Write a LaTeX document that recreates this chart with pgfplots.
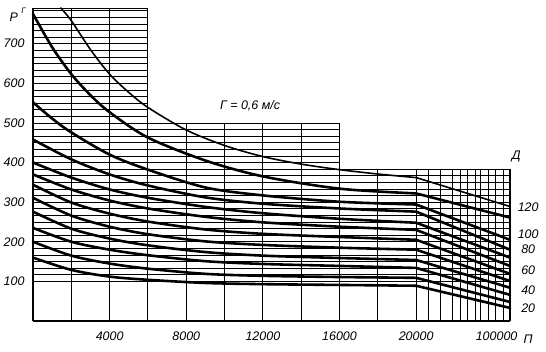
\documentclass[border=0pt]{standalone}
\usepackage{fontspec}
\setmainfont{Liberation Sans}
\usepackage{pgfplots}
\pgfplotsset{compat=1.18}
\begin{document}
\begin{tikzpicture}
\path[use as bounding box] (-33bp,-31bp) rectangle (513bp,321bp);
\begin{axis}[
 at={(0,0)}, anchor=south west,
 scale only axis, width=477bp, height=313bp,
 xmin=0, xmax=24.9, ymin=0, ymax=790,
 axis lines=left, axis line style={-, line width=1.7pt},
 major tick length=0pt,
 xtick={4,8,12,16,20,24.2},
 xticklabels={4000,8000,12000,16000,20000,100000},
 ytick={100,200,300,400,500,600,700},
 yticklabels={100,200,300,400,500,600,700},
 ticklabel style={font=\fontsize{12.5}{14}\selectfont\itshape},
 xticklabel style={yshift=-7pt},
 yticklabel style={xshift=-5pt},
 clip=false,
]
% horizontal grid
\pgfplotsinvokeforeach{100,116.7,133.3,150,166.7,183.3,200,216.7,233.3,250,266.7,283.3,300,316.7,333.3,350,366.7,383.3}{
  \draw[line width=0.6pt] (axis cs:0,#1) -- (axis cs:24.9,#1);}
\pgfplotsinvokeforeach{400,416.7,433.3,450,466.7,483.3,500}{
  \draw[line width=0.6pt] (axis cs:0,#1) -- (axis cs:16,#1);}
\pgfplotsinvokeforeach{516.7,533.3,550,566.7,583.3,600,616.7,633.3,650,666.7,683.3,700,716.7,733.3,750,766.7,783.3}{
  \draw[line width=0.6pt] (axis cs:0,#1) -- (axis cs:6,#1);}
\draw[line width=0.8pt] (axis cs:0,790) -- (axis cs:6,790);
% vertical grid
\pgfplotsinvokeforeach{2,4,6}{
  \draw[line width=1.1pt] (axis cs:#1,0) -- (axis cs:#1,790);}
\pgfplotsinvokeforeach{8,10,12,14,16}{
  \draw[line width=1.1pt] (axis cs:#1,0) -- (axis cs:#1,500);}
\pgfplotsinvokeforeach{18,20,24.9}{
  \draw[line width=1.1pt] (axis cs:#1,0) -- (axis cs:#1,383.3);}
\pgfplotsinvokeforeach{20.63,21.25,21.88,22.30,22.66,23.08,23.34,23.76,24.13,24.54}{
  \draw[line width=0.7pt] (axis cs:#1,0) -- (axis cs:#1,383.3);}
% curves
\pgfplotsset{crv/.style={black, line width=2.6pt, line cap=round, line join=round}}
\addplot[crv, line width=1.6pt, smooth] coordinates {(1.45,790) (2,758) (3,685) (4,623) (5,577) (6,539) (8,482) (10,443) (12,415) (14,396) (16,382) (18,371) (20,362)};
\addplot[crv, line width=1.6pt] coordinates {(20,362) (24.9,289)};
\addplot[crv, smooth] coordinates {(0,775) (1,691) (2,623) (3,570) (4,527) (6,463) (9,405) (12,365) (16,334) (20,322)};
\addplot[crv] coordinates {(20,322) (24.9,261)};
\addplot[crv, smooth] coordinates {(0,552) (1,511) (2,476) (4,420) (6,382) (9,337) (12,317) (16,301) (20,294)};
\addplot[crv] coordinates {(20,294) (24.9,205)};
\addplot[crv, smooth] coordinates {(0,458) (2,408) (4,370) (6,342) (9,312) (12,296) (16,284) (20,276)};
\addplot[crv] coordinates {(20,276) (24.9,180)};
\addplot[crv, smooth] coordinates {(0,400) (2,362) (4,332) (6,311) (9,288) (12,272) (16,258) (20,248)};
\addplot[crv] coordinates {(20,248) (24.9,160)};
\addplot[crv, smooth] coordinates {(0,370) (2,332) (4,304) (6,284) (9,263) (12,249) (16,238) (20,230)};
\addplot[crv] coordinates {(20,230) (24.9,139)};
\addplot[crv, smooth] coordinates {(0,344) (2,299) (4,271) (6,251) (9,231) (12,220) (16,212) (20,205)};
\addplot[crv] coordinates {(20,205) (24.9,119)};
\addplot[crv, smooth] coordinates {(0,311) (2,266) (4,238) (6,219) (9,201) (12,192) (16,185) (20,180)};
\addplot[crv] coordinates {(20,180) (24.9,101)};
\addplot[crv, smooth] coordinates {(0,276) (2,233) (4,208) (6,191) (9,174) (12,165) (16,159) (20,154)};
\addplot[crv] coordinates {(20,154) (24.9,84)};
\addplot[crv, smooth] coordinates {(0,235) (2,200) (4,180) (6,166) (9,151) (12,144) (16,139) (20,134)};
\addplot[crv] coordinates {(20,134) (24.9,66)};
\addplot[crv, smooth] coordinates {(0,200) (2,165) (4,145) (6,132) (9,119) (12,114) (16,111) (20,109)};
\addplot[crv] coordinates {(20,109) (24.9,48)};
\addplot[crv, smooth] coordinates {(0,160) (2,129) (4,112) (6,104) (9,96) (12,93) (16,91) (20,89)};
\addplot[crv] coordinates {(20,89) (24.9,33)};
% texts
\node[font=\fontsize{12.5}{14}\selectfont\itshape] at (axis cs:11.33,544) {Г = 0,6 м/с};
\node[font=\fontsize{12.5}{14}\selectfont\itshape] at (axis cs:25.22,415) {Д};
\node[font=\fontsize{12.5}{14}\selectfont\itshape] at (axis cs:25.85,286) {120};
\node[font=\fontsize{12.5}{14}\selectfont\itshape] at (axis cs:25.85,218) {100};
\node[font=\fontsize{12.5}{14}\selectfont\itshape] at (axis cs:25.85,180) {80};
\node[font=\fontsize{12.5}{14}\selectfont\itshape] at (axis cs:25.85,129) {60};
\node[font=\fontsize{12.5}{14}\selectfont\itshape] at (axis cs:25.85,78) {40};
\node[font=\fontsize{12.5}{14}\selectfont\itshape] at (axis cs:25.85,33) {20};
\node[font=\fontsize{12.5}{14}\selectfont\itshape] at (axis cs:25.85,-46) {П};
\node[font=\fontsize{12.5}{14}\selectfont\itshape] at (axis cs:-1.0,768) {Р};
\node[font=\fontsize{8}{9}\selectfont\itshape] at (axis cs:-0.5,782) {Г};
\end{axis}
\end{tikzpicture}
\end{document}
